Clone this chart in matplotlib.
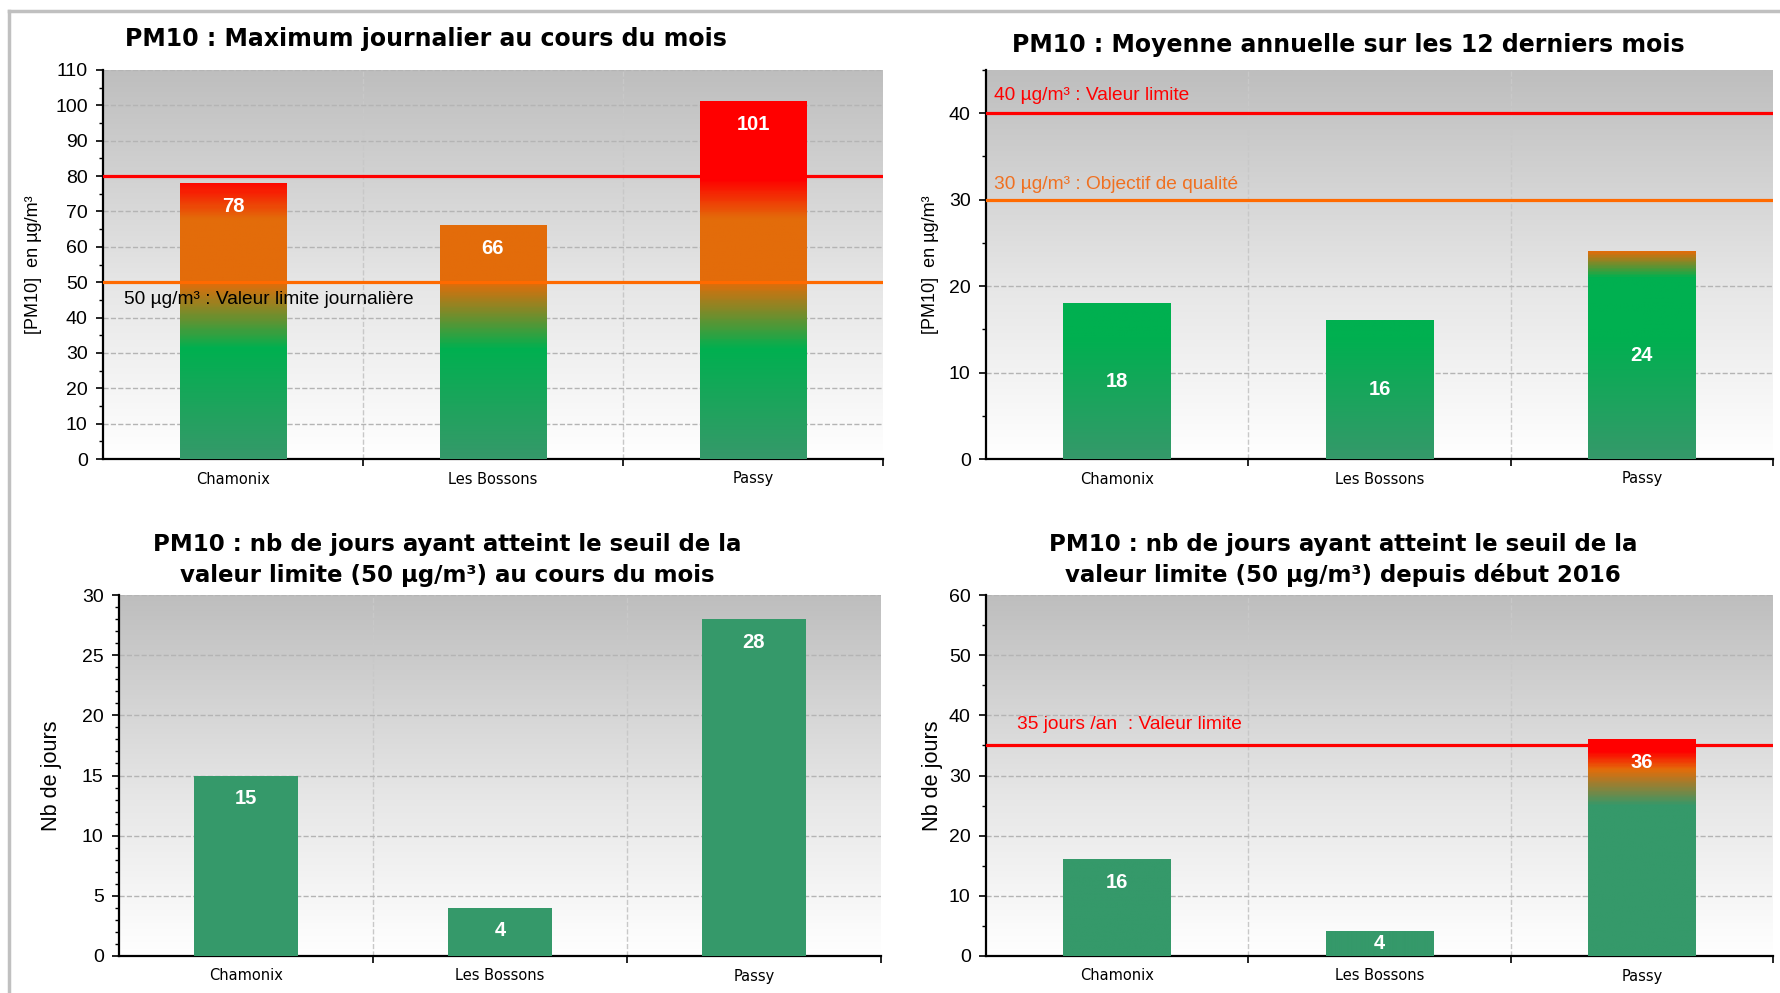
import numpy as np
import matplotlib
matplotlib.use('Agg')
from matplotlib import pyplot as plt
from matplotlib.colors import LinearSegmentedColormap, Normalize
from matplotlib.ticker import MultipleLocator, FixedLocator
from matplotlib.lines import Line2D

# données
stations = ['Chamonix', 'Les Bossons', 'Passy']
max_journalier = [78, 66, 101]
moyenne_annuelle = [18, 16, 24]
jours_mois = [15, 4, 28]
jours_annee = [16, 4, 36]

# seuils réglementaires
seuil_journalier = 50
seuil_info = 80
valeur_limite_annuelle = 40
objectif_qualite = 30
jours_limite = 35

VERT_FONCE = '#35996a'
VERT = '#00b050'
ORANGE = '#e36c0a'
ROUGE = '#ff0000'
ORANGE_LIGNE = '#ff6a00'

plt.rcParams['font.family'] = ['Liberation Sans', 'DejaVu Sans']

fig = plt.figure(figsize=(17.8, 9.93), dpi=100)
W, H = 1780, 993


def make_ax(l, t, r, b):
    return fig.add_axes([l / W, 1 - b / H, (r - l) / W, (b - t) / H])


fond = LinearSegmentedColormap.from_list('fond', [(0, '#ffffff'), (0.45, '#e6e6e6'), (1, '#bebebe')])


def style_ax(ax, ymax, major, minor, ylabel, label_x, ylabel_size):
    grad = np.linspace(0, 1, 256).reshape(-1, 1)
    ax.imshow(grad, extent=[0, 1, 0, 1], transform=ax.transAxes, aspect='auto',
              cmap=fond, origin='lower', zorder=0)
    ax.set_xlim(-0.5, 2.5)
    ax.set_ylim(0, ymax)
    for s in ['top', 'right']:
        ax.spines[s].set_visible(False)
    ax.spines['left'].set_linewidth(1.6)
    ax.spines['bottom'].set_linewidth(1.6)
    ax.yaxis.set_major_locator(MultipleLocator(major))
    ax.yaxis.set_minor_locator(MultipleLocator(minor))
    ax.tick_params(axis='y', which='major', length=5, width=1.2, labelsize=14, pad=6)
    ax.tick_params(axis='y', which='minor', length=3, width=1)
    ax.set_xticks(range(3))
    ax.set_xticklabels(stations, family='DejaVu Sans', fontsize=10.5)
    ax.xaxis.set_minor_locator(FixedLocator([0.5, 1.5, 2.5]))
    ax.tick_params(axis='x', which='major', length=0, pad=9)
    ax.tick_params(axis='x', which='minor', length=5, width=1.2)
    ax.grid(axis='y', which='major', linestyle='--', color='#b4b4b4', linewidth=1, zorder=1)
    for xv in [0.5, 1.5]:
        ax.axvline(xv, linestyle='--', color='#c8c8c8', linewidth=1, zorder=1)
    ax.set_ylabel(ylabel, fontsize=ylabel_size)
    ax.yaxis.set_label_coords(label_x, 0.5)


def draw_bars(ax, values, stops, ymax, label_mid=False):
    bars = ax.bar(range(3), values, width=0.41, color='none', zorder=3)
    if stops is None:
        for b in bars:
            b.set_facecolor(VERT_FONCE)
    else:
        cmap = LinearSegmentedColormap.from_list('barre', [(v / ymax, c) for v, c in stops])
        for b, v in zip(bars, values):
            x0 = b.get_x()
            col = np.linspace(0, v, 200).reshape(-1, 1)
            ax.imshow(col, extent=[x0, x0 + b.get_width(), 0, v], origin='lower', aspect='auto',
                      cmap=cmap, norm=Normalize(0, ymax), zorder=3)
    ax.set_xlim(-0.5, 2.5)
    ax.set_ylim(0, ymax)
    for i, v in enumerate(values):
        h_px = ax.transData.transform((0, v))[1] - ax.transData.transform((0, 0))[1]
        off = h_px / 2 if label_mid else min(23, h_px / 2)
        ax.annotate(str(v), (i, v), xytext=(0, -off * 0.72), textcoords='offset points',
                    ha='center', va='center', color='white', fontweight='bold', fontsize=14.5, zorder=5)


# 1 : maximum journalier
ax1 = make_ax(103, 70, 883, 459)
style_ax(ax1, 110, 10, 5, '[PM10]  en µg/m³', -0.078, 13)
draw_bars(ax1, max_journalier,
          [(0, VERT_FONCE), (12, '#22a25f'), (31, VERT), (50, ORANGE), (68, ORANGE), (79, ROUGE), (110, ROUGE)], 110)
ax1.axhline(seuil_info, color=ROUGE, linewidth=2.3, zorder=4)
ax1.axhline(seuil_journalier, color=ORANGE_LIGNE, linewidth=2.3, zorder=4)
ax1.text(-0.42, 45, '50 µg/m³ : Valeur limite journalière', fontsize=13.8, va='center', zorder=6)
fig.text(426 / W, 1 - 39 / H, 'PM10 : Maximum journalier au cours du mois', family='DejaVu Sans',
         fontweight='bold', fontsize=17, ha='center', va='center')

# 2 : moyenne annuelle
ax2 = make_ax(986, 70, 1773, 459)
style_ax(ax2, 45, 10, 5, '[PM10]  en µg/m³', -0.06, 13)
draw_bars(ax2, moyenne_annuelle,
          [(0, VERT_FONCE), (14, VERT), (21, VERT), (24, ORANGE), (45, ORANGE)], 45, label_mid=True)
ax2.axhline(valeur_limite_annuelle, color=ROUGE, linewidth=2.3, zorder=4)
ax2.axhline(objectif_qualite, color=ORANGE_LIGNE, linewidth=2.3, zorder=4)
ax2.text(-0.47, 42.1, '40 µg/m³ : Valeur limite', color=ROUGE, fontsize=13.8, va='center', zorder=6)
ax2.text(-0.47, 31.8, '30 µg/m³ : Objectif de qualité', color='#f07020', fontsize=13.8, va='center', zorder=6)
fig.text(1348 / W, 1 - 45 / H, 'PM10 : Moyenne annuelle sur les 12 derniers mois', family='DejaVu Sans',
         fontweight='bold', fontsize=17, ha='center', va='center')

# 3 : nb de jours au cours du mois
ax3 = make_ax(119, 595, 881, 956)
style_ax(ax3, 30, 5, 1, 'Nb de jours', -0.075, 15.6)
draw_bars(ax3, jours_mois, None, 30)
fig.text(447 / W, 1 - 560 / H, 'PM10 : nb de jours ayant atteint le seuil de la\nvaleur limite (50 µg/m³) au cours du mois',
         family='DejaVu Sans', fontweight='bold', fontsize=16.5, ha='center', va='center', linespacing=1.4)

# 4 : nb de jours depuis début 2016
ax4 = make_ax(986, 595, 1773, 956)
style_ax(ax4, 60, 10, 5, 'Nb de jours', -0.055, 15.6)
draw_bars(ax4, jours_annee,
          [(0, VERT_FONCE), (25, VERT_FONCE), (31, ORANGE), (34, ROUGE), (60, ROUGE)], 60)
ax4.axhline(jours_limite, color=ROUGE, linewidth=2.3, zorder=4)
ax4.text(-0.38, 38.4, '35 jours /an  : Valeur limite', color=ROUGE, fontsize=13.8, va='center', zorder=6)
fig.text(1343 / W, 1 - 560 / H, 'PM10 : nb de jours ayant atteint le seuil de la\nvaleur limite (50 µg/m³) depuis début 2016',
         family='DejaVu Sans', fontweight='bold', fontsize=16.5, ha='center', va='center', linespacing=1.4)

# cadre gris
fig.add_artist(Line2D([9 / W, 1], [1 - 11 / H, 1 - 11 / H], color='#c0c0c0', linewidth=2.5, transform=fig.transFigure))
fig.add_artist(Line2D([9 / W, 9 / W], [0, 1 - 11 / H], color='#c0c0c0', linewidth=2.5, transform=fig.transFigure))

plt.savefig('out.png', dpi=100)
